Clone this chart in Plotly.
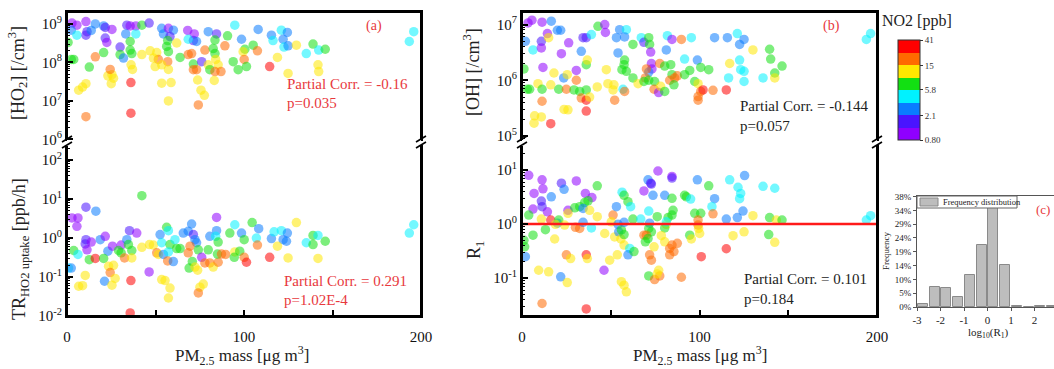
import numpy as np
import plotly.graph_objects as go

W, H = 1054, 369
FONT = "Liberation Serif"

# ---------------- Panel (a) top: HO2 vs PM2.5 ----------------
pm_ho2 = [2.8, 5.6, 2.4, 10.7, 16.0, 20.7, 25.4, 21.6, 33.8, 35.7,
          38.9, 42.3, 46.4, 10.7, 11.3, 13.7, 5.6, 0.6, 21.6, 22.5,
          33.2, 38.9, 30.0, 35.7, 35.7, 36.6, 30.0, 31.9, 20.7, 16.0,
          3.8, 2.4, 42.3, 47.0, 50.7, 53.5, 54.5, 57.3, 60.1, 58.2,
          56.9, 56.3, 57.3, 62.0, 68.2, 71.9, 71.4, 73.2, 68.5, 63.9,
          56.9, 51.6, 48.8, 49.8, 53.5, 57.3, 68.5, 70.4, 71.4, 71.4,
          73.2, 76.1, 77.9, 79.8, 84.5, 83.6, 82.6, 83.6, 84.0, 85.4,
          79.8, 80.7, 83.6, 87.0, 89.2, 90.7, 94.8, 98.6, 100.5, 99.5,
          100.1, 93.9, 96.7, 101.4, 105.2, 107.6, 108.0, 115.5, 116.4, 121.1,
          124.5, 122.1, 122.6, 124.9, 118.9, 114.5, 129.6, 135.2, 139.0, 142.2,
          145.9, 141.8, 142.2, 124.9, 193.4, 195.9, 6.6, 8.8, 10.7, 23.1,
          25.4, 25.0, 26.3, 24.4, 36.2, 37.0, 36.1, 53.5, 58.8, 57.3,
          73.8, 75.7, 77.6, 74.2, 83.2, 36.1, 10.7, 12.6]
ho2 = [1.05e9, 9.3e8, 6.9e8, 1.15e9, 1.0e9, 8.9e8, 7.2e8, 8.1e8, 9.3e8, 8.9e8,
       8.9e8, 9.3e8, 1.05e9, 5.1e8, 6.3e8, 6.8e8, 5.1e8, 3.3e8, 4.3e8, 3.3e8,
       5.5e8, 5.5e8, 2.5e8, 3.5e8, 2.1e8, 1.7e8, 1.6e8, 1.3e8, 1.8e8, 1.4e8,
       1.2e8, 1.2e8, 1.6e8, 2.0e8, 1.8e8, 7.7e8, 5.5e8, 7.7e8, 6.9e8, 4.7e8,
       3.7e8, 2.6e8, 1.9e8, 3.2e8, 6.8e8, 5.5e8, 3.7e8, 3.5e8, 4.0e8, 1.35e8,
       1.05e8, 1.2e8, 1.3e8, 7.8e7, 8.7e7, 6.6e7, 1.6e8, 1.7e8, 9.1e7, 6.5e7,
       6.5e7, 1.05e8, 2.1e8, 6.3e8, 5.5e8, 3.8e8, 2.3e8, 1.7e8, 1.2e8, 8.7e7,
       8.7e7, 6.5e7, 5.8e7, 5.8e7, 2.7e8, 4.9e8, 9.3e8, 4.0e8, 2.2e8, 1.9e8,
       1.2e8, 1.05e8, 6.5e7, 7.8e7, 2.8e8, 2.0e8, 7.2e8, 5.1e8, 3.7e8, 6.9e8,
       6.0e8, 4.0e8, 2.5e8, 2.7e8, 1.35e8, 7.8e7, 2.8e8, 1.7e8, 3.0e8, 2.1e8,
       2.2e8, 8.7e7, 5.8e7, 5.2e7, 3.5e8, 6.3e8, 1.9e7, 2.3e7, 2.8e7, 4.5e7,
       4.8e7, 2.8e7, 3.9e7, 6.6e7, 8.7e7, 6.6e7, 3.0e7, 2.9e7, 3.0e7, 1.0e7,
       3.5e7, 1.9e7, 1.4e7, 7.9e6, 3.4e7, 4.8e6, 3.9e6, 7.6e7]
no2_ho2 = [1.0, 1.0, 2.8, 1.0, 2.8, 2.8, 1.0, 1.7, 1.7, 1.0,
           1.0, 7.5, 1.7, 1.7, 1.7, 2.8, 4.5, 7.5, 1.7, 1.0,
           2.8, 4.5, 1.7, 7.5, 7.5, 7.5, 7.5, 2.8, 7.5, 20,
           7.5, 7.5, 12, 12, 12, 2.8, 2.8, 1.0, 2.8, 1.7,
           7.5, 7.5, 7.5, 12, 1.0, 1.0, 1.7, 2.8, 4.5, 7.5,
           20, 20, 12, 12, 12, 12, 20, 20, 7.5, 20,
           20, 1.7, 20, 2.8, 1.7, 7.5, 7.5, 7.5, 12, 12,
           12, 7.5, 20, 20, 20, 7.5, 4.5, 2.8, 7.5, 12,
           20, 7.5, 7.5, 7.5, 7.5, 20, 2.8, 2.8, 4.5, 4.5,
           2.8, 2.8, 4.5, 2.8, 12, 32, 12, 4.5, 7.5, 4.5,
           7.5, 12, 12, 12, 4.5, 4.5, 12, 12, 12, 12,
           12, 12, 12, 20, 12, 12, 32, 12, 12, 12,
           12, 12, 12, 20, 12, 32, 20, 7.5]

# ---------------- Panel (a) bottom: TR_HO2 uptake vs PM2.5 ----------------
pm_tr = [42.3, 10.7, 16.3, 2.8, 6.2, 5.6, 10.7, 10.3, 11.3, 13.7,
         18.8, 21.6, 23.1, 25.7, 30.6, 35.3, 39.4, 33.8, 29.1, 30.6,
         34.7, 36.6, 32.5, 36.6, 42.3, 3.8, 6.2, 12.6, 16.0, 20.7,
         0.9, 2.4, 10.3, 6.6, 8.8, 23.5, 26.3, 24.4, 27.2, 21.2,
         25.4, 36.1, 46.4, 35.7, 46.6, 48.8, 50.7, 51.6, 52.6, 53.5,
         54.5, 56.3, 57.3, 58.2, 57.3, 56.9, 60.1, 53.5, 55.4, 58.2,
         57.3, 61.0, 62.0, 63.9, 65.7, 68.5, 70.4, 71.4, 72.3, 73.2,
         69.5, 68.5, 74.2, 76.1, 70.8, 69.0, 72.3, 73.8, 77.9, 77.0,
         75.1, 74.2, 80.7, 84.5, 84.0, 85.4, 84.5, 79.8, 80.7, 82.6,
         85.4, 85.0, 87.3, 89.6, 92.0, 94.8, 98.6, 100.1, 94.8, 94.5,
         97.6, 100.1, 101.4, 104.6, 107.0, 108.3, 107.6, 114.5, 115.5, 117.0,
         121.1, 124.5, 122.1, 124.0, 118.9, 124.9, 129.6, 135.2, 139.0, 141.8,
         139.0, 145.9, 141.8, 193.4, 195.9]
tr_uptake = [12.3, 6.2, 4.9, 3.3, 3.3, 2.0, 0.91, 0.71, 0.50, 0.79,
             0.91, 1.11, 0.46, 0.62, 0.66, 1.55, 1.35, 0.91, 0.48, 0.42,
             0.68, 0.48, 0.31, 0.31, 0.58, 0.48, 0.38, 0.28, 0.30, 0.30,
             0.17, 0.17, 0.11, 0.058, 0.060, 0.19, 0.20, 0.13, 0.092, 0.078,
             0.062, 0.081, 0.135, 0.012, 0.68, 0.66, 0.42, 0.38, 1.23, 0.76,
             0.38, 1.9, 1.55, 0.68, 0.44, 0.26, 0.25, 0.086, 0.081, 0.052,
             0.029, 0.91, 0.54, 0.54, 1.35, 1.5, 2.3, 1.23, 0.91, 0.76,
             0.62, 0.42, 0.50, 0.32, 0.25, 0.17, 0.18, 0.15, 0.23, 0.066,
             0.055, 0.039, 1.11, 1.55, 1.11, 0.79, 3.4, 0.50, 0.23, 0.18,
             0.24, 0.39, 0.39, 0.38, 1.35, 2.2, 1.35, 0.91, 0.44, 0.32,
             0.46, 0.32, 0.24, 2.5, 1.0, 1.75, 0.66, 0.32, 0.97, 1.45,
             1.55, 1.35, 0.91, 0.83, 0.62, 0.31, 2.5, 0.76, 1.17, 1.17,
             0.68, 0.83, 0.30, 1.35, 2.2]
no2_tr = [7.5, 1.7, 2.8, 1.0, 1.0, 1.0, 1.7, 1.7, 1.0, 1.0,
          2.8, 1.0, 2.8, 1.0, 1.0, 1.7, 1.0, 2.8, 7.5, 7.5,
          7.5, 7.5, 20, 12, 12, 7.5, 4.5, 7.5, 32, 7.5,
          4.5, 2.8, 12, 12, 12, 12, 12, 20, 12, 2.8,
          12, 32, 1.0, 32, 12, 12, 20, 12, 2.8, 4.5,
          2.8, 7.5, 4.5, 7.5, 4.5, 20, 2.8, 12, 12, 12,
          12, 4.5, 7.5, 7.5, 2.8, 2.8, 2.8, 1.7, 2.8, 2.8,
          20, 20, 7.5, 1.0, 7.5, 7.5, 12, 12, 20, 12,
          12, 20, 2.8, 2.8, 4.5, 7.5, 1.0, 7.5, 20, 12,
          20, 7.5, 20, 20, 7.5, 4.5, 2.8, 7.5, 12, 7.5,
          7.5, 20, 32, 7.5, 4.5, 2.8, 20, 32, 2.8, 4.5,
          4.5, 2.8, 2.8, 2.8, 12, 12, 12, 4.5, 7.5, 4.5,
          7.5, 7.5, 12, 4.5, 4.5]

# ---------------- Panel (b) top: OH vs PM2.5 ----------------
pm_oh = [3.4, 5.6, 11.3, 16.5, 1.9, 6.2, 10.9, 10.9, 14.3, 19.9,
         21.8, 15.0, 26.3, 22.2, 34.4, 36.2, 39.1, 42.8, 46.6, 47.0,
         33.4, 36.2, 36.8, 30.6, 23.5, 18.0, 11.8, 1.1, 9.0, 4.3,
         3.0, 11.3, 11.3, 16.2, 20.7, 25.0, 25.5, 30.6, 29.3, 32.5,
         36.2, 33.4, 36.2, 38.1, 36.2, 42.4, 7.1, 10.9, 6.8, 16.2,
         23.7, 25.9, 47.5, 48.4, 51.8, 52.2, 53.2, 54.1, 55.0, 58.8,
         57.8, 62.5, 57.8, 57.5, 58.8, 56.3, 56.9, 57.8, 51.3, 62.5,
         65.4, 67.2, 68.7, 71.4, 71.9, 72.5, 72.9, 73.2, 71.4, 70.1,
         69.5, 71.4, 68.7, 74.7, 74.4, 77.0, 78.1, 80.4, 77.6, 80.4,
         81.3, 81.9, 84.5, 83.8, 84.5, 83.2, 86.0, 85.6, 87.5, 89.8,
         91.6, 94.5, 91.6, 95.4, 98.8, 100.7, 105.2, 97.3, 99.2, 100.7,
         102.0, 99.2, 99.2, 107.6, 115.1, 108.5, 115.7, 121.3, 125.1, 122.6,
         122.6, 123.2, 125.1, 125.1, 117.0, 116.4, 130.1, 135.8, 139.5, 140.1,
         142.4, 142.4, 146.5, 194.0, 196.4]
oh = [1.07e7, 1.2e7, 1.1e7, 1.15e7, 5.0e6, 3.5e6, 5.0e6, 3.8e6, 6.9e6, 7.9e6,
      7.9e6, 5.8e6, 4.7e6, 3.0e6, 5.8e6, 5.8e6, 6.6e6, 9.3e6, 1.0e7, 7.2e6,
      3.3e6, 1.9e6, 2.3e6, 1.5e6, 1.1e6, 1.35e6, 1.7e6, 1.6e6, 8.7e5, 6.9e5,
      6.9e5, 6.9e5, 4.2e5, 8.3e5, 6.9e5, 6.9e5, 1.26e6, 1.0e6, 6.7e5, 6.3e5,
      6.7e5, 4.8e5, 4.4e5, 5.0e5, 2.8e5, 7.6e5, 2.3e5, 2.2e5, 1.7e5, 1.66e5,
      3.0e5, 2.95e5, 1.55e6, 8.7e5, 8.3e5, 4.4e5, 5.8e6, 3.1e6, 8.1e6, 8.1e6,
      6.0e6, 4.4e6, 2.3e6, 1.9e6, 1.45e6, 1.55e6, 6.9e5, 6.3e5, 6.7e5, 1.1e6,
      8.7e5, 5.8e6, 4.8e6, 5.8e6, 4.4e6, 3.2e6, 2.0e6, 1.6e6, 1.4e6, 1.6e6,
      1.1e6, 1.0e6, 9.5e5, 9.5e5, 6.9e5, 6.0e5, 7.8e5, 6.3e5, 2.0e6, 1.8e6,
      3.5e6, 6.3e6, 5.4e6, 1.9e6, 1.26e6, 1.0e6, 1.1e6, 8.3e5, 1.2e6, 5.4e6,
      1.26e6, 1.5e6, 2.4e6, 5.8e6, 2.3e6, 1.7e6, 1.55e6, 9.5e5, 8.7e5, 6.3e5,
      6.7e5, 5.1e5, 4.4e5, 6.6e5, 6.7e5, 5.8e6, 5.8e6, 6.9e6, 5.4e6, 4.4e6,
      2.3e6, 1.55e6, 1.45e6, 9.5e5, 2.0e6, 1.1e6, 3.5e6, 1.1e6, 3.6e6, 2.4e6,
      1.35e6, 1.1e6, 1.8e6, 5.4e6, 6.9e6]
no2_oh = [1.0, 1.0, 1.0, 2.8, 2.8, 4.5, 1.7, 1.0, 1.0, 2.8,
          2.8, 12, 1.0, 1.0, 1.7, 1.7, 4.5, 7.5, 1.0, 1.0,
          2.8, 7.5, 12, 1.0, 2.8, 12, 1.0, 7.5, 12, 7.5,
          7.5, 7.5, 20, 12, 7.5, 20, 12, 20, 7.5, 7.5,
          7.5, 20, 32, 12, 32, 12, 12, 12, 12, 32,
          12, 12, 12, 12, 12, 20, 2.8, 2.8, 2.8, 4.5,
          2.8, 7.5, 7.5, 7.5, 7.5, 7.5, 4.5, 20, 12, 7.5,
          12, 4.5, 1.7, 7.5, 7.5, 1.0, 1.0, 1.0, 2.8, 20,
          20, 7.5, 7.5, 7.5, 20, 1.0, 12, 7.5, 20, 7.5,
          2.8, 4.5, 1.0, 7.5, 7.5, 20, 20, 7.5, 20, 20,
          7.5, 7.5, 4.5, 4.5, 2.8, 7.5, 7.5, 7.5, 12, 20,
          32, 20, 20, 20, 32, 2.8, 2.8, 4.5, 2.8, 2.8,
          4.5, 4.5, 4.5, 4.5, 12, 4.5, 12, 4.5, 7.5, 7.5,
          7.5, 12, 7.5, 4.5, 4.5]

# ---------------- Panel (b) bottom: R1 vs PM2.5 ----------------
pm_r1 = [3.8, 11.3, 11.8, 6.8, 10.9, 11.3, 6.2, 14.3, 3.8, 16.5,
         22.2, 23.7, 30.6, 25.9, 35.7, 39.4, 42.4, 35.3, 37.2, 32.5,
         29.7, 34.4, 38.1, 25.9, 10.9, 16.2, 20.0, 20.7, 18.8, 24.0,
         30.1, 32.5, 34.4, 39.1, 42.4, 6.2, 13.2, 18.4, 1.5, 1.9,
         9.4, 15.0, 21.8, 25.5, 11.3, 36.2, 25.0, 27.4, 36.2, 36.8,
         46.2, 46.6, 49.4, 53.7, 51.3, 50.3, 52.2, 54.1, 54.5, 56.0,
         57.5, 55.7, 57.5, 57.5, 60.7, 59.7, 63.1, 56.4, 57.5, 59.7,
         61.2, 53.2, 56.0, 57.5, 58.8, 62.5, 66.9, 68.7, 71.0, 72.5,
         72.9, 73.8, 71.4, 71.9, 71.4, 72.9, 70.1, 68.7, 69.5, 71.0,
         71.9, 72.9, 71.4, 74.7, 77.6, 77.0, 76.2, 74.4, 76.2, 76.6,
         80.4, 84.5, 84.5, 84.5, 85.1, 84.5, 82.3, 81.3, 80.4, 81.3,
         78.5, 80.4, 83.2, 84.5, 87.5, 85.6, 83.2, 89.8, 91.6, 92.6,
         95.0, 98.8, 97.3, 100.7, 99.2, 99.2, 99.5, 94.5, 95.4, 100.1,
         101.0, 105.2, 108.5, 107.0, 107.6, 115.1, 117.0, 118.9, 115.1, 121.3,
         121.7, 123.2, 122.6, 125.4, 124.5, 125.1, 130.1, 135.8, 139.0, 139.5,
         142.4, 142.4, 143.3, 146.5, 194.0, 196.4, 1.1]
r1 = [8.0, 6.6, 4.5, 3.7, 2.67, 2.1, 1.9, 1.69, 1.47, 3.2,
      5.7, 4.4, 6.3, 1.8, 3.7, 3.1, 5.1, 2.5, 2.7, 2.1,
      2.0, 1.95, 1.8, 1.58, 1.24, 1.19, 1.04, 1.19, 0.99, 0.96,
      0.87, 0.83, 1.08, 0.85, 1.37, 0.625, 0.79, 0.53, 0.38, 0.25,
      0.14, 0.131, 0.106, 0.083, 0.034, 0.027, 0.27, 0.23, 0.27, 0.23,
      0.14, 0.67, 0.215, 0.27, 1.47, 1.10, 0.58, 0.99, 0.72, 0.78,
      1.08, 0.53, 0.64, 0.41, 0.354, 0.27, 0.31, 3.9, 3.4, 2.6,
      2.1, 2.1, 0.086, 0.074, 0.056, 1.24, 1.24, 4.1, 6.6, 5.7,
      5.5, 3.4, 1.74, 1.04, 0.83, 0.72, 0.625, 0.625, 0.47, 0.54,
      0.27, 0.215, 0.11, 0.094, 0.11, 0.14, 0.12, 0.38, 1.37, 9.6,
      3.4, 7.6, 7.1, 3.0, 1.8, 1.47, 1.32, 0.99, 0.85, 1.10,
      0.61, 0.47, 0.354, 0.41, 0.44, 0.31, 0.27, 0.104, 3.4, 3.2,
      2.9, 6.6, 1.58, 1.58, 1.19, 0.96, 0.83, 0.625, 0.53, 0.67,
      0.25, 5.1, 2.95, 2.1, 1.55, 1.24, 6.6, 0.61, 0.35, 1.32,
      4.8, 3.7, 2.95, 7.9, 1.74, 0.72, 1.43, 5.0, 0.64, 1.32,
      4.6, 0.46, 1.19, 1.19, 1.19, 1.43, 0.50]
no2_r1 = [1.0, 1.0, 1.0, 1.0, 1.7, 1.7, 1.0, 1.0, 7.5, 2.8,
          1.7, 2.8, 1.0, 1.0, 1.0, 1.0, 7.5, 7.5, 7.5, 7.5,
          7.5, 2.8, 12, 12, 12, 32, 2.8, 7.5, 12, 12,
          20, 20, 2.8, 4.5, 12, 7.5, 7.5, 12, 7.5, 2.8,
          12, 12, 2.8, 12, 20, 32, 20, 12, 32, 12,
          1.0, 12, 12, 12, 20, 12, 12, 2.8, 2.8, 7.5,
          2.8, 12, 7.5, 12, 4.5, 2.8, 7.5, 4.5, 7.5, 7.5,
          4.5, 2.8, 12, 12, 12, 7.5, 4.5, 1.0, 2.8, 1.7,
          1.7, 2.8, 4.5, 2.8, 7.5, 7.5, 20, 20, 7.5, 7.5,
          20, 20, 7.5, 20, 20, 12, 12, 12, 7.5, 1.0,
          2.8, 1.0, 1.7, 7.5, 7.5, 7.5, 7.5, 12, 7.5, 4.5,
          12, 12, 20, 20, 20, 20, 20, 20, 7.5, 7.5,
          4.5, 2.8, 7.5, 7.5, 20, 20, 12, 7.5, 12, 12,
          32, 7.5, 2.8, 4.5, 20, 2.8, 4.5, 12, 32, 2.8,
          4.5, 4.5, 4.5, 2.8, 2.8, 12, 12, 4.5, 7.5, 7.5,
          4.5, 12, 12, 7.5, 4.5, 4.5, 7.5]
r1_reference = 1.0

# ---------------- Panel (c): frequency distribution of log10(R1) ----------------
hist_centers = [-2.75, -2.25, -1.75, -1.25, -0.75, -0.25, 0.25, 0.75, 1.25, 1.75, 2.25, 2.75]
hist_freq = [1.0, 7.0, 6.5, 3.5, 11.0, 21.5, 34.5, 14.5, 0.4, 0.0, 0.3, 0.3]
hist_tick_vals = [0, 4.8, 9.6, 14.4, 19.2, 24.0, 28.8, 33.6, 38.4]
hist_tick_text = ["0%", "5%", "10%", "14%", "19%", "24%", "29%", "34%", "38%"]

# colour bar (NO2, ppb)
cb_ticks = [0.80, 2.1, 5.8, 15, 41]
cb_labels = ["0.80", "2.1", "5.8", "15", "41"]
band_colors = ["#8f00ff", "#4a14ff", "#0a7cff", "#00f2ff",
               "#12e012", "#ffe800", "#ff6a00", "#ff0000"]

# ------------------------------------------------------------------
colorscale = []
for i, c in enumerate(band_colors):
    colorscale += [[i / 8, c], [(i + 1) / 8, c]]
CMIN, CMAX = np.log(cb_ticks[0]), np.log(cb_ticks[-1])


def px(x):
    return x / W


def py(y):
    return 1 - y / H


fig = go.Figure()


def add_points(xv, yv, no2, xa, ya, showscale=False):
    marker = dict(size=9.5, color=np.log(np.array(no2, dtype=float)),
                  colorscale=colorscale, cmin=CMIN, cmax=CMAX,
                  opacity=0.55, line=dict(width=0), showscale=showscale)
    if showscale:
        marker["colorbar"] = dict(
            x=px(898), xanchor="left", y=py(90), yanchor="middle",
            len=100, lenmode="pixels", thickness=22, thicknessmode="pixels",
            xpad=0, ypad=0, outlinewidth=1, outlinecolor="#333",
            tickvals=np.log(cb_ticks), ticktext=cb_labels,
            ticks="outside", ticklen=3, tickcolor="#333",
            tickfont=dict(family=FONT, size=9, color="#333"))
    fig.add_trace(go.Scatter(x=xv, y=yv, mode="markers", xaxis=xa, yaxis=ya,
                             marker=marker, showlegend=False, hoverinfo="skip"))


add_points(pm_ho2, ho2, no2_ho2, "x", "y", showscale=True)
add_points(pm_tr, tr_uptake, no2_tr, "x2", "y2")
add_points(pm_oh, oh, no2_oh, "x3", "y3")
add_points(pm_r1, r1, no2_r1, "x4", "y4")

fig.add_trace(go.Scatter(x=[0, 200], y=[r1_reference, r1_reference], mode="lines",
                         xaxis="x4", yaxis="y4", line=dict(color="#ff1a1a", width=2.5),
                         showlegend=False, hoverinfo="skip"))

fig.add_trace(go.Bar(x=hist_centers, y=hist_freq, width=0.42, xaxis="x5", yaxis="y5",
                     marker=dict(color="#bdbdbd", line=dict(color="#8a8a8a", width=1)),
                     showlegend=False, hoverinfo="skip"))

LC = "#000000"
tickfont = dict(family=FONT, size=15, color="#111")


def log_minor(lo, hi):
    return [m * 10.0 ** e for e in range(lo, hi) for m in range(2, 10)]


def sup_labels(exps):
    return ["10<sup>%d</sup>" % e for e in exps]


def yaxis_log(dom, rng, exps, anchor):
    return dict(domain=dom, type="log", range=rng, anchor=anchor, automargin=False,
                tickvals=[10.0 ** e for e in exps], ticktext=sup_labels(exps),
                ticks="inside", ticklen=6, tickcolor=LC, tickwidth=1.5,
                minor=dict(tickvals=log_minor(int(np.floor(rng[0])), int(np.ceil(rng[1]))),
                           ticks="inside", ticklen=3, tickcolor=LC, tickwidth=1.2),
                showline=True, mirror=True, linecolor=LC, linewidth=2,
                showgrid=False, zeroline=False, tickfont=tickfont)


def xaxis_top(dom, anchor):
    return dict(domain=dom, anchor=anchor, range=[0, 200], side="top", automargin=False,
                showline=True, linecolor=LC, linewidth=2, ticks="", showticklabels=False,
                showgrid=False, zeroline=False)


def xaxis_bottom(dom, anchor):
    return dict(domain=dom, anchor=anchor, range=[0, 200], automargin=False,
                tickvals=[0, 100, 200], ticktext=["0", "100", "200"],
                ticks="inside", ticklen=6, tickcolor=LC, tickwidth=1.5, ticklabelstandoff=6,
                minor=dict(tickvals=[50, 150], ticks="inside", ticklen=6, tickcolor=LC, tickwidth=1.5),
                showline=True, linecolor=LC, linewidth=2,
                showgrid=False, zeroline=False, tickfont=tickfont)


XL = [px(67), px(421)]
XR = [px(522), px(877)]
YT = [py(141), py(12)]
YB = [py(316), py(145)]

fig.update_layout(
    width=W, height=H, margin=dict(l=0, r=0, t=0, b=0, pad=0, autoexpand=False),
    paper_bgcolor="white", plot_bgcolor="white",
    xaxis=xaxis_top(XL, "y"),
    yaxis=yaxis_log(YT, [5.96, 9.31], [6, 7, 8, 9], "x"),
    xaxis2=xaxis_bottom(XL, "y2"),
    yaxis2=yaxis_log(YB, [-2.0, 2.39], [-2, -1, 0, 1, 2], "x2"),
    xaxis3=xaxis_top(XR, "y3"),
    yaxis3=yaxis_log(YT, [4.91, 7.225], [5, 6, 7], "x3"),
    xaxis4=xaxis_bottom(XR, "y4"),
    yaxis4=yaxis_log(YB, [-1.70, 1.463], [-1, 0, 1], "x4"),
    xaxis5=dict(domain=[px(917), 1.0], anchor="y5", range=[-3, 2.83], automargin=False,
                tickvals=[-3, -2, -1, 0, 1, 2], ticktext=["-3", "-2", "-1", "0", "1", "2"],
                ticks="outside", ticklen=3, tickcolor="#555",
                showline=True, mirror=True, linecolor="#555", linewidth=1,
                showgrid=False, zeroline=False,
                tickfont=dict(family=FONT, size=11, color="#222")),
    yaxis5=dict(domain=[py(307), py(196)], anchor="x5", range=[0, 38.6], automargin=False,
                tickvals=hist_tick_vals, ticktext=hist_tick_text,
                ticks="outside", ticklen=3, tickcolor="#555",
                showline=True, linecolor="#555", linewidth=1,
                showgrid=False, zeroline=False,
                tickfont=dict(family=FONT, size=9, color="#222")),
    bargap=0,
)

shapes = []


def seg(x0, y0, x1, y1, color=LC, width=2):
    shapes.append(dict(type="line", xref="paper", yref="paper", layer="above",
                       x0=px(x0), y0=py(y0), x1=px(x1), y1=py(y1),
                       line=dict(color=color, width=width)))


# ---- panel frames (broken between the two sub-panels) ----
for (xa, xb) in [(67, 421), (522, 877)]:
    seg(xa, 12, xb, 12)
    seg(xa, 316, xb, 316)
    for xv in (xa, xb):
        seg(xv, 12, xv, 140)
        seg(xv, 146, xv, 316)
        # break marks "//"
        seg(xv - 5, 142, xv + 5, 136, width=1.6)
        seg(xv - 5, 148, xv + 5, 142, width=1.6)

# legend box for histogram
shapes.append(dict(type="rect", xref="paper", yref="paper",
                   x0=px(917), x1=px(1017), y0=py(208), y1=py(196),
                   line=dict(color="#666", width=1), fillcolor="white"))
shapes.append(dict(type="rect", xref="paper", yref="paper",
                   x0=px(920), x1=px(938), y0=py(206), y1=py(198),
                   line=dict(color="#888", width=1), fillcolor="#bdbdbd"))
fig.update_layout(shapes=shapes)

RED = "#e8383d"
BLK = "#222"
anns = []


def ann(x, y, text, size=15, color=BLK, xanchor="left", angle=0):
    anns.append(dict(x=px(x), y=py(y), xref="paper", yref="paper", text=text,
                     showarrow=False, xanchor=xanchor, yanchor="middle",
                     textangle=angle, font=dict(family=FONT, size=size, color=color)))


ann(285, 84, "Partial Corr. = -0.16", color=RED)
ann(285, 103, "p=0.035", color=RED)
ann(282, 281, "Partial Corr. = 0.291", color=RED)
ann(282, 300, "p=1.02E-4", color=RED)
ann(738, 106, "Partial Corr. = -0.144")
ann(738, 126, "p=0.057")
ann(742, 279, "Partial Corr. = 0.101")
ann(742, 299, "p=0.184")
ann(374, 26, "(a)", size=14, color=RED, xanchor="center")
ann(831, 26, "(b)", size=14, color=RED, xanchor="center")
ann(917, 21, "NO2 [ppb]", size=16, xanchor="center")
ann(1043, 209, "(c)", size=13, color=RED, xanchor="center")
ann(941, 202, "Frequency distribution", size=8.5)
ann(988, 333, "log<sub>10</sub>(R<sub>1</sub>)", size=11, xanchor="center")
ann(886, 251, "Frequency", size=9, xanchor="center", angle=-90)
ann(18, 73, "[HO<sub>2</sub>] [/cm<sup>3</sup>]", size=18, xanchor="center", angle=-90)
ann(20, 249, "TR<sub>HO2 uptake</sub> [ppb/h]", size=18, xanchor="center", angle=-90)
ann(472, 72, "[OH] [/cm<sup>3</sup>]", size=18, xanchor="center", angle=-90)
ann(475, 250, "R<sub>1</sub>", size=18, xanchor="center", angle=-90)
ann(242, 355, "PM<sub>2.5</sub> mass [μg m<sup>3</sup>]", size=17, xanchor="center")
ann(700, 355, "PM<sub>2.5</sub> mass [μg m<sup>3</sup>]", size=17, xanchor="center")
fig.update_layout(annotations=anns)

fig.write_html("out.html")
